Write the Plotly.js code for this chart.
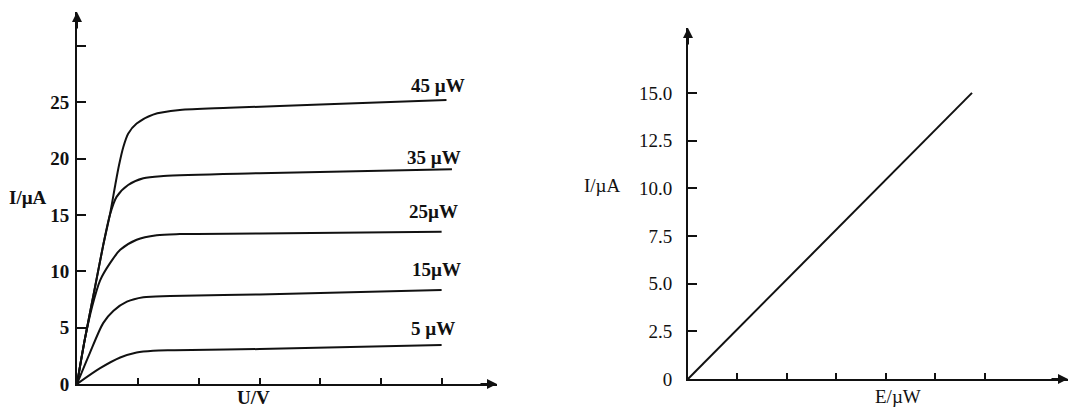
<!DOCTYPE html>
<html>
<head>
<meta charset="utf-8">
<script src="https://cdn.plot.ly/plotly-3.0.1.min.js"></script>
<style>html,body{margin:0;padding:0;background:#fff;}#chart{width:1073px;height:407px;}</style>
</head>
<body>
<div id="chart"></div>
<script>
// ---- Left chart data: I–U characteristic curves (U in V, I in µA) ----
const seriesNames = ['45 µW', '35 µW', '25µW', '15µW', '5 µW'];
const u45 = [0, 0.13, 0.30, 0.43, 0.54, 0.63, 0.69, 0.76, 0.84, 0.98, 1.25, 1.69, 2.5, 4.0, 6.07];
const i45 = [0, 4.0, 8.7, 12.3, 15.0, 17.7, 19.4, 21.0, 22.2, 23.1, 23.9, 24.3, 24.5, 24.8, 25.2];
const u35 = [0, 0.13, 0.30, 0.43, 0.54, 0.65, 0.84, 1.09, 1.42, 3.0, 6.16];
const i35 = [0, 4.0, 8.7, 12.3, 15.0, 16.6, 17.65, 18.25, 18.45, 18.7, 19.05];
const u25 = [0, 0.13, 0.25, 0.38, 0.54, 0.71, 0.98, 1.31, 1.69, 3.0, 5.99];
const i25 = [0, 4.0, 6.9, 9.2, 10.7, 11.9, 12.8, 13.2, 13.3, 13.35, 13.5];
const u15 = [0, 0.20, 0.43, 0.60, 0.82, 1.09, 1.53, 3.0, 5.99];
const i15 = [0, 2.6, 5.4, 6.5, 7.3, 7.7, 7.8, 7.95, 8.34];
const u5  = [0, 0.38, 0.71, 0.98, 1.25, 1.6, 3.0, 5.99];
const i5  = [0, 1.4, 2.35, 2.8, 2.96, 3.0, 3.1, 3.46];
const leftYTickVals = [0, 5, 10, 15, 20, 25, 30];
const leftYTickText = ['0', '5', '10', '15', '20', '25', ''];
const leftXTickVals = [1, 2, 3, 4, 5, 6];

// ---- Right chart data: I vs E (E in µW, I in µA) ----
const eVals = [0, 5.74];
const iVals = [0, 15.0];
const rightYTickVals = [0, 2.5, 5, 7.5, 10, 12.5, 15];
const rightYTickText = ['0', '2.5', '5.0', '7.5', '10.0', '12.5', '15.0'];
const rightXTickVals = [1, 2, 3, 4, 5, 6];

const W = 1073, H = 407;
const ink = '#111';
const lineStyle = {color: ink, width: 2, shape: 'spline', smoothing: 0.8};

const leftU = [u45, u35, u25, u15, u5];
const leftI = [i45, i35, i25, i15, i5];

const traces = leftU.map((u, k) => ({
  x: u, y: leftI[k], type: 'scatter', mode: 'lines', name: seriesNames[k],
  line: lineStyle, xaxis: 'x', yaxis: 'y', hoverinfo: 'skip'
}));
traces.push({x: eVals, y: iVals, type: 'scatter', mode: 'lines', name: 'I–E',
  line: {color: ink, width: 2}, xaxis: 'x2', yaxis: 'y2', hoverinfo: 'skip'});

// label offsets (px) relative to each curve's end point
const labelShift = [[-8, 14], [-18, 12], [-8, 20], [-5, 20], [-9, 17]];
const leftFont = {family: 'Liberation Serif', size: 19, color: ink, weight: 'bold'};
const rightFont = {family: 'Liberation Serif', size: 19, color: ink};

const annotations = seriesNames.map((n, k) => ({
  text: n, xref: 'x', yref: 'y',
  x: leftU[k][leftU[k].length - 1], y: leftI[k][leftI[k].length - 1],
  xshift: labelShift[k][0], yshift: labelShift[k][1],
  showarrow: false, font: leftFont, xanchor: 'center', yanchor: 'middle'
}));

// axis titles as horizontal text
annotations.push({text: 'I/µA', xref: 'paper', yref: 'paper', x: 28 / W, y: 1 - 197 / H,
  showarrow: false, font: leftFont, xanchor: 'center', yanchor: 'middle'});
annotations.push({text: 'U/V', xref: 'paper', yref: 'paper', x: 253 / W, y: 1 - 397 / H,
  showarrow: false, font: leftFont, xanchor: 'center', yanchor: 'middle'});
annotations.push({text: 'I/µA', xref: 'paper', yref: 'paper', x: 602 / W, y: 1 - 185 / H,
  showarrow: false, font: rightFont, xanchor: 'center', yanchor: 'middle'});
annotations.push({text: 'E/µW', xref: 'paper', yref: 'paper', x: 898 / W, y: 1 - 396 / H,
  showarrow: false, font: rightFont, xanchor: 'center', yanchor: 'middle'});

// axis arrowheads
const xMaxL = 6.9, yMaxL = 33, xMaxR = 7.68, yMaxR = 18.4;
const arrow = (xr, yr, x, y, ax, ay) => ({xref: xr, yref: yr, x: x, y: y, ax: ax, ay: ay,
  text: '', showarrow: true, arrowhead: 2, arrowsize: 1, arrowwidth: 2, arrowcolor: ink});
annotations.push(arrow('x', 'y', xMaxL, 0, -18, 0));
annotations.push(arrow('x', 'y', 0, yMaxL, 0, 18));
annotations.push(arrow('x2', 'y2', xMaxR, 0, -18, 0));
annotations.push(arrow('x2', 'y2', 0, yMaxR, 0, 18));

const baseAxis = {showgrid: false, zeroline: false, showline: true, linecolor: ink, linewidth: 2,
  ticks: 'inside', tickcolor: ink, tickwidth: 2, fixedrange: true};

const layout = {
  width: W, height: H,
  margin: {l: 0, r: 0, t: 0, b: 0},
  paper_bgcolor: '#fff', plot_bgcolor: '#fff',
  showlegend: false,
  xaxis: Object.assign({}, baseAxis, {domain: [77 / W, 497 / W], range: [0, xMaxL],
    tickvals: leftXTickVals, ticktext: leftXTickVals.map(() => ''), ticklen: 6,
    anchor: 'y'}),
  yaxis: Object.assign({}, baseAxis, {domain: [(H - 384) / H, (H - 12) / H], range: [0, yMaxL],
    tickvals: leftYTickVals, ticktext: leftYTickText, ticklen: 9, tickfont: leftFont,
    anchor: 'x', ticklabelstandoff: 2}),
  xaxis2: Object.assign({}, baseAxis, {domain: [688 / W, 1068 / W], range: [0, xMaxR],
    tickvals: rightXTickVals, ticktext: rightXTickVals.map(() => ''), ticklen: 6,
    anchor: 'y2'}),
  yaxis2: Object.assign({}, baseAxis, {domain: [(H - 379) / H, (H - 28) / H], range: [0, yMaxR],
    tickvals: rightYTickVals, ticktext: rightYTickText, ticklen: 9, tickfont: rightFont,
    anchor: 'x2', ticklabelstandoff: 10}),
  annotations: annotations
};

Plotly.newPlot('chart', traces, layout, {displayModeBar: false, staticPlot: true});
</script>
</body>
</html>
